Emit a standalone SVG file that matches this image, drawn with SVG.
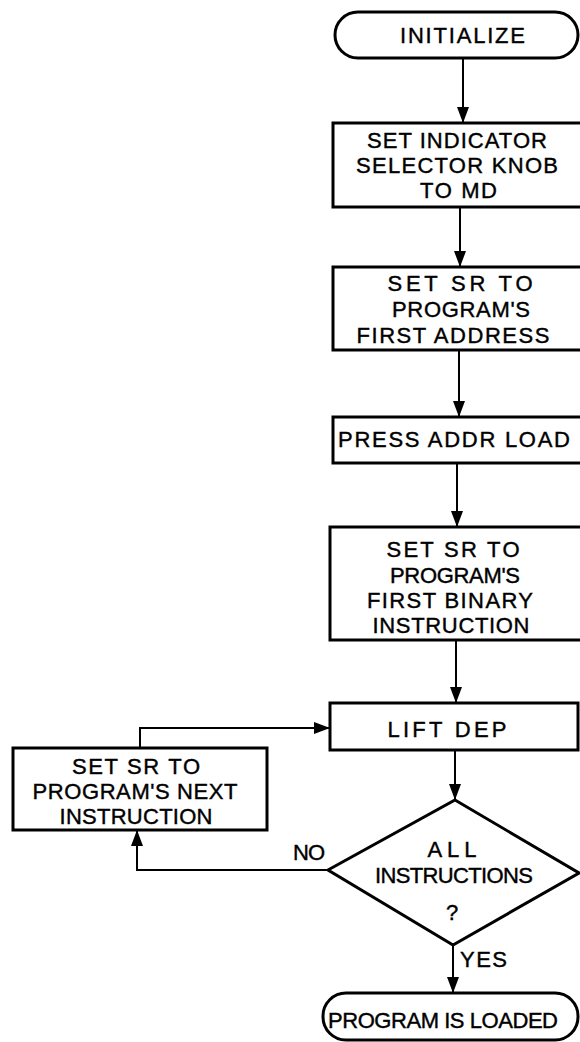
<svg xmlns="http://www.w3.org/2000/svg" width="580" height="1042" viewBox="0 0 580 1042">
<style>
.s{fill:#fff;stroke:#000;stroke-width:3}
.c{fill:none;stroke:#000;stroke-width:2}
text{font-family:"Liberation Sans",Arial,sans-serif;font-size:22px;fill:#000;stroke:#000;stroke-width:0.4;text-anchor:middle}
</style>
<defs>
<marker id="a" markerUnits="userSpaceOnUse" markerWidth="16" markerHeight="12" refX="16" refY="6" orient="auto" viewBox="0 0 16 12">
<path d="M0,0 L16,6 L0,12 z" fill="#000"/>
</marker>
</defs>
<rect width="580" height="1042" fill="#fff"/>
<g id="connectors">
<path class="c" d="M463,58 V123" marker-end="url(#a)"/>
<path class="c" d="M460,207 V267" marker-end="url(#a)"/>
<path class="c" d="M459,350 V417" marker-end="url(#a)"/>
<path class="c" d="M457,463 V527" marker-end="url(#a)"/>
<path class="c" d="M456,640 V703" marker-end="url(#a)"/>
<path class="c" d="M455,750 V800" marker-end="url(#a)"/>
<path class="c" d="M453,945 V993" marker-end="url(#a)"/>
<path class="c" d="M328,870 H137 V830" marker-end="url(#a)"/>
<path class="c" d="M140,748 V728 H330" marker-end="url(#a)"/>
<text x="309" y="860" textLength="32">NO</text>
<text x="460" y="967" style="text-anchor:start" textLength="47">YES</text>
</g>
<g id="initialize">
<rect class="s" x="335" y="12" width="243" height="46" rx="23"/>
<text x="462.5" y="43" textLength="125">INITIALIZE</text>
</g>
<g id="set-indicator">
<rect class="s" x="333" y="123" width="260" height="84"/>
<text x="457" y="148" textLength="180">SET INDICATOR</text>
<text x="457" y="173" textLength="202">SELECTOR KNOB</text>
<text x="458.5" y="198" textLength="77">TO MD</text>
</g>
<g id="set-sr-address">
<rect class="s" x="333" y="267" width="260" height="83"/>
<text x="460" y="291" textLength="145">SET SR TO</text>
<text x="461" y="317" textLength="138">PROGRAM'S</text>
<text x="453" y="343" textLength="193">FIRST ADDRESS</text>
</g>
<g id="press-addr-load">
<rect class="s" x="333" y="417" width="260" height="46"/>
<text x="454" y="447" textLength="232">PRESS ADDR LOAD</text>
</g>
<g id="set-sr-first">
<rect class="s" x="330" y="527" width="263" height="113"/>
<text x="453" y="557" textLength="133">SET SR TO</text>
<text x="455" y="583" textLength="130">PROGRAM'S</text>
<text x="450" y="608" textLength="166">FIRST BINARY</text>
<text x="451" y="633" textLength="157">INSTRUCTION</text>
</g>
<g id="lift-dep">
<rect class="s" x="330" y="703" width="248" height="47"/>
<text x="447" y="737" textLength="119">LIFT DEP</text>
</g>
<g id="set-sr-next">
<rect class="s" x="13" y="748" width="254" height="82"/>
<text x="136" y="774" textLength="128">SET SR TO</text>
<text x="135" y="799" textLength="205">PROGRAM'S NEXT</text>
<text x="136" y="824" textLength="153">INSTRUCTION</text>
</g>
<g id="all-instructions">
<polygon class="s" points="455,800 579,873 453,945 328,870"/>
<text x="452" y="857" textLength="49">ALL</text>
<text x="454" y="883" textLength="158">INSTRUCTIONS</text>
<text x="452" y="920">?</text>
</g>
<g id="program-loaded">
<rect class="s" x="323" y="993" width="255" height="47" rx="23"/>
<text x="443" y="1028" textLength="230">PROGRAM IS LOADED</text>
</g>
</svg>
